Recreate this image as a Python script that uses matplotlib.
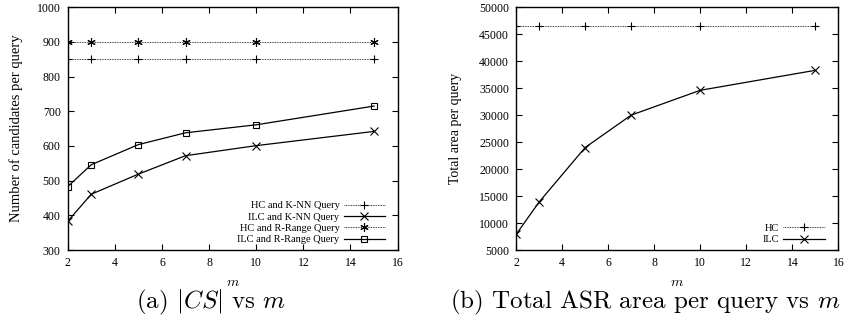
import matplotlib.pyplot as plt
import numpy as np

plt.rcParams['font.family'] = ['Liberation Serif', 'DejaVu Serif']
plt.rcParams['mathtext.fontset'] = 'cm'

m = [2, 3, 5, 7, 10, 15]
hc_knn = [850, 850, 850, 850, 850, 850]
ilc_knn = [383, 461, 519, 572, 601, 642]
hc_range = [900, 900, 900, 900, 900, 900]
ilc_range = [483, 546, 604, 638, 661, 715]

hc_area = [46500, 46500, 46500, 46500, 46500, 46500]
ilc_area = [7900, 13900, 24000, 30000, 34600, 38300]

fig = plt.figure(figsize=(8.46, 3.24), dpi=100)
ax1 = fig.add_axes([0.080, 0.228, 0.390, 0.750])
ax2 = fig.add_axes([0.610, 0.228, 0.381, 0.750])

star = (6, 2, 0)
ax1.plot(m, hc_knn, color='black', lw=0.6, ls=(0, (1, 1)), marker='+', ms=6, mew=0.8,
         label='HC and K-NN Query')
ax1.plot(m, ilc_knn, color='black', lw=0.9, marker='x', ms=6, mew=0.8,
         label='ILC and K-NN Query')
ax1.plot(m, hc_range, color='black', lw=0.6, ls=(0, (1, 1)), marker=star, ms=6, mew=0.8,
         label='HC and R-Range Query')
ax1.plot(m, ilc_range, color='black', lw=0.9, marker='s', ms=5, mew=0.8, mfc='none',
         label='ILC and R-Range Query')
ax1.set_xlim(2, 16)
ax1.set_ylim(300, 1000)
ax1.set_xticks(np.arange(2, 17, 2))
ax1.set_yticks(np.arange(300, 1001, 100))
ax1.set_ylabel('Number of candidates per query', fontsize=10.5, labelpad=10)

ax2.plot(m, hc_area, color='black', lw=0.6, ls=(0, (1, 1)), marker='+', ms=6, mew=0.8, label='HC')
ax2.plot(m, ilc_area, color='black', lw=0.9, marker='x', ms=6, mew=0.8, label='ILC')
ax2.set_xlim(2, 16)
ax2.set_ylim(5000, 50000)
ax2.set_xticks(np.arange(2, 17, 2))
ax2.set_yticks(np.arange(5000, 50001, 5000))
ax2.set_ylabel('Total area per query', fontsize=10, labelpad=12)

for ax, bx in ((ax1, 0.98), (ax2, 0.975)):
    ax.tick_params(direction='in', top=True, right=True, labelsize=8.5, length=4, width=0.8, pad=5)
    for s in ax.spines.values():
        s.set_linewidth(1.0)
    ax.set_xlabel('$m$', fontsize=10, labelpad=5)
    ax.legend(loc='lower right', bbox_to_anchor=(bx, 0), frameon=False, markerfirst=False,
              fontsize=7.5, handlelength=4.0, labelspacing=0.2, borderaxespad=0.15,
              handletextpad=0.4)

fig.text(0.250, 0.065, r'(a) $|CS|$ vs $m$', family='cmr10', fontsize=18,
         ha='center', va='center')
fig.text(0.763, 0.065, r'(b) Total ASR area per query vs $m$', family='cmr10', fontsize=18,
         ha='center', va='center')

plt.savefig('out.png', dpi=100)
plt.close()
